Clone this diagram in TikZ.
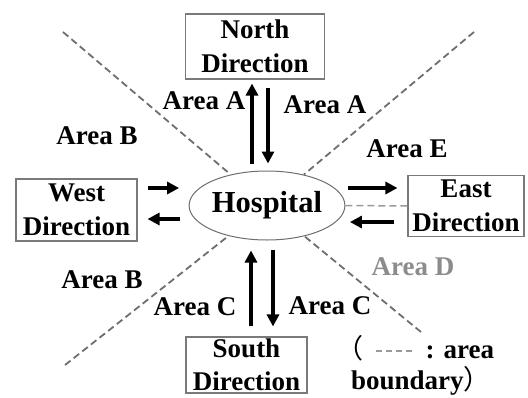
\documentclass[tikz,border=0pt]{standalone}
\usepackage{fontspec}
\setmainfont{Liberation Serif}
\newfontfamily\cjk{Noto Sans CJK SC}
\usetikzlibrary{shapes.geometric,arrows.meta}
\definecolor{boxgray}{HTML}{7A7A7A}
\definecolor{bndgray}{HTML}{6E6E6E}
\definecolor{lightgray2}{HTML}{9A9A9A}
\definecolor{areadgray}{HTML}{8C8C8C}
\newcommand{\legdash}{{\color{lightgray2}\leaders\hbox{\rule[6pt]{6pt}{1.6pt}\hspace{4pt}}\hskip 52pt}}
\begin{document}
\begin{tikzpicture}[x=1pt,y=-1pt,
  txt/.style={font=\fontsize{27}{33.5}\selectfont\bfseries, inner sep=0pt},
  dirbox/.style={txt, draw=boxgray, line width=1.1pt, align=center},
  hosp/.style={ellipse, draw=bndgray, line width=1pt, inner sep=0pt,
    minimum width=137pt, minimum height=69pt,
    font=\fontsize{30.5}{33}\selectfont\bfseries},
  arr/.style={line width=4pt, -{Triangle[length=12pt,width=12pt]}},
  bnd/.style={draw=bndgray, line width=1.8pt, dash pattern=on 7pt off 4pt},
  bndlight/.style={draw=lightgray2, line width=1.5pt, dash pattern=on 7pt off 4pt},
  lbl/.style={txt, anchor=base}
]
\useasboundingbox (0,0) rectangle (528,397);
% nodes
\node[dirbox, minimum width=139pt, minimum height=65pt] (N) at (255,46.5) {North\\Direction};
\node[dirbox, minimum width=121pt, minimum height=62pt] (W) at (76.5,210) {West\\Direction};
\node[dirbox, minimum width=116pt, minimum height=61pt] (E) at (466,206) {East\\Direction};
\node[dirbox, minimum width=121pt, minimum height=56pt] (S) at (246.5,365) {South\\Direction};
\node[hosp] (H) at (267,205.5) {Hospital};
% boundary coordinates
\coordinate (tl) at (63,32);
\coordinate (tr) at (474,32);
\coordinate (bl) at (65,365);
\coordinate (br) at (421,332);
\draw[bnd] (tl) -- (H);
\draw[bnd] (tr) -- (H);
\draw[bnd] (bl) -- (H);
\draw[bnd] (br) -- (H);
\draw[bndlight] (H.east) -- (E.west);
% helper coordinates for arrow positions
\coordinate (xa) at (252,0);
\coordinate (xb) at (268,0);
\coordinate (xc) at (251,0);
\coordinate (xd) at (273,0);
\coordinate (ya) at (0,188);
\coordinate (yb) at (0,219);
\coordinate (yc) at (0,222);
% arrows north
\draw[arr, shorten <=7pt, shorten >=4pt] (H.north -| xa) -- (N.south -| xa);
\draw[arr, shorten <=8pt, shorten >=7pt] (N.south -| xb) -- (H.north -| xb);
% arrows west
\draw[arr, shorten <=10pt, shorten >=9.5pt] (W.east |- ya) -- (H.west |- ya);
\draw[arr, shorten <=8.5pt, shorten >=10pt] (H.west |- yb) -- (W.east |- yb);
% arrows east
\draw[arr, shorten <=2.5pt, shorten >=10pt] (H.east |- ya) -- (E.west |- ya);
\draw[arr, shorten <=13pt, shorten >=4.5pt] (E.west |- yc) -- (H.east |- yc);
% arrows south
\draw[arr, shorten <=10pt, shorten >=10pt] (S.north -| xc) -- (H.south -| xc);
\draw[arr, shorten <=9.5pt, shorten >=10pt] (H.south -| xd) -- (S.north -| xd);
% area labels
\node[lbl] (aal) at (204,109) {Area A};
\node[lbl] (aar) at (325,113) {Area A};
\node[lbl] (abt) at (97,144) {Area B};
\node[lbl] (ae) at (407,157) {Area E};
\node[lbl, text=areadgray] (ad) at (413,275) {Area D};
\node[lbl] (abb) at (102,288) {Area B};
\node[lbl] (acl) at (195,315) {Area C};
\node[lbl] (acr) at (330,314) {Area C};
% legend
\node[txt, anchor=base west] (leg1) at (336,358) {{\cjk\mdseries （}\hspace{4.5pt}\legdash\hspace{6pt}: area};
\node[txt, anchor=base west] (leg2) at (351,389) {boundary{\cjk\mdseries ）}};
\end{tikzpicture}
\end{document}
